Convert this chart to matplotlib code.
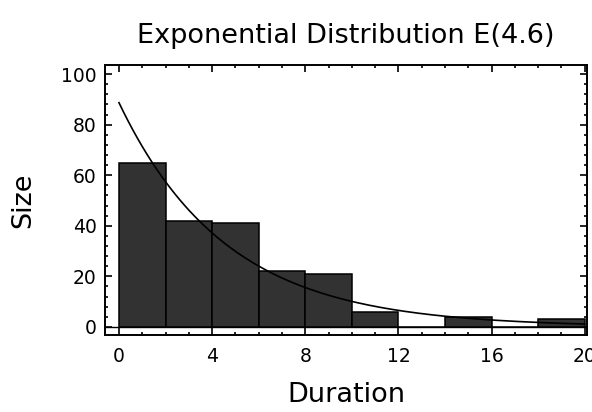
import numpy as np
import matplotlib.pyplot as plt
from matplotlib.ticker import MultipleLocator

# histogram of durations, bins of width 2
bin_edges = [0, 2, 4, 6, 8, 10, 12, 14, 16, 18, 20]
counts = [65, 42, 41, 22, 21, 6, 0, 4, 0, 3]
mean_duration = 4.6

x_ticks = [0, 4, 8, 12, 16, 20]
y_ticks = [0, 20, 40, 60, 80, 100]

plt.rcParams['font.family'] = ['DejaVu Sans']


def main():
    fig = plt.figure(figsize=(5.92, 4.12), dpi=100)
    ax = fig.add_axes([105 / 592, 1 - 335 / 412, 482 / 592, 270 / 412])

    left = np.array(bin_edges[:-1])
    width = np.diff(bin_edges)
    ax.bar(left, counts, width=width, align='edge', color='#323232',
           edgecolor='black', linewidth=1.1, zorder=2)
    ax.axhline(0, color='black', linewidth=1.0, zorder=1)

    # fitted exponential density scaled to the histogram
    total = sum(counts)
    xs = np.linspace(0, 20, 200)
    ys = total * width[0] / mean_duration * np.exp(-xs / mean_duration)
    ax.plot(xs, ys, color='black', linewidth=1.2, zorder=3)

    ax.set_xlim(-0.6, 20.1)
    ax.set_ylim(-3.2, 103.6)
    ax.set_xticks(x_ticks)
    ax.set_yticks(y_ticks)
    ax.xaxis.set_minor_locator(MultipleLocator(1))
    ax.yaxis.set_minor_locator(MultipleLocator(4))
    ax.tick_params(which='both', direction='in', top=True, right=True,
                   width=1.2, labelsize=13.5)
    ax.tick_params(which='major', length=5)
    ax.tick_params(which='minor', length=2.5)
    ax.tick_params(axis='x', pad=9)
    ax.tick_params(axis='y', pad=6)
    for s in ax.spines.values():
        s.set_linewidth(1.4)

    ax.set_xlabel('Duration', fontsize=19.5, labelpad=11)
    ax.set_ylabel('Size', fontsize=19.5, labelpad=18)
    ax.set_title('Exponential Distribution E(4.6)', fontsize=19.5, pad=16)

    fig.savefig('out.png', dpi=100)


if __name__ == "__main__":
    main()
